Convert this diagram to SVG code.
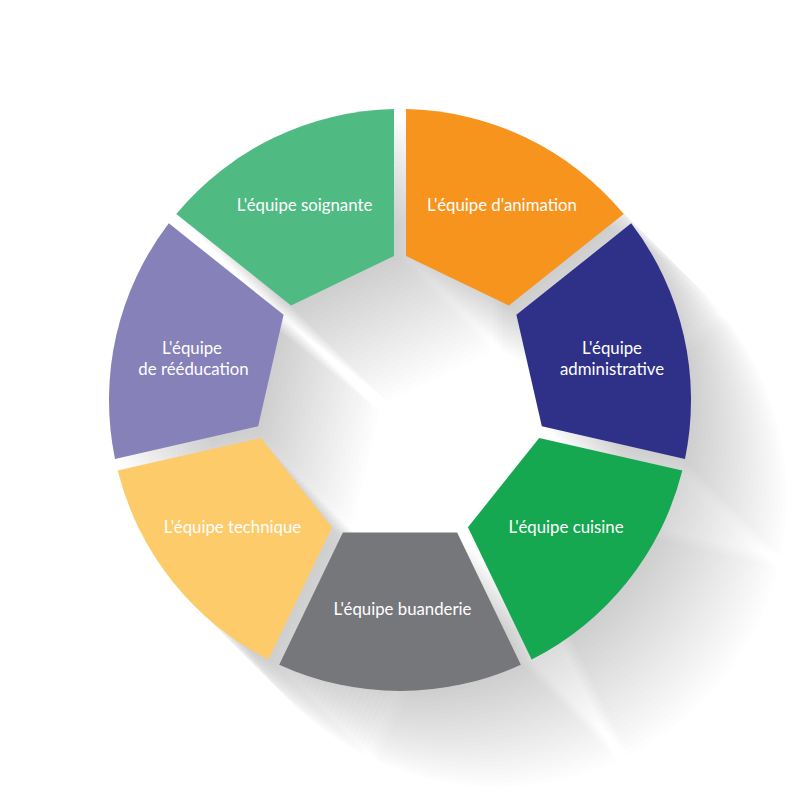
<svg xmlns="http://www.w3.org/2000/svg" xmlns:xlink="http://www.w3.org/1999/xlink" width="800" height="800" viewBox="0 0 800 800">
<style>
.lbl{font-family:Lato,"Open Sans","Liberation Sans",sans-serif;font-size:16.8px;fill:#ffffff;text-anchor:middle}
.sh{fill:#000;fill-opacity:0.006}
</style>
<defs>
<path id="ring" d="M406,255.89 L406,109.06 A291,291 0 0 1 623.73,213.91 L508.93,305.46 Z
M516.41,314.84 L631.21,223.29 A291,291 0 0 1 684.99,458.89 L541.84,426.22 Z
M539.17,437.92 L682.32,470.59 A291,291 0 0 1 531.64,659.53 L467.94,527.24 Z
M457.12,532.44 L520.82,664.73 A291,291 0 0 1 279.18,664.73 L342.88,532.44 Z
M332.06,527.24 L268.36,659.53 A291,291 0 0 1 117.68,470.59 L260.84,437.92 Z
M258.17,426.22 L115.01,458.89 A291,291 0 0 1 168.79,223.29 L283.59,314.84 Z
M291.07,305.46 L176.27,213.91 A291,291 0 0 1 394,109.06 L394,255.89 Z"/>
</defs>
<rect width="800" height="800" fill="#ffffff"/>
<g id="shadow">
<use xlink:href="#ring" class="sh" x="4" y="4"/>
<use xlink:href="#ring" class="sh" x="8" y="8"/>
<use xlink:href="#ring" class="sh" x="12" y="12"/>
<use xlink:href="#ring" class="sh" x="16" y="16"/>
<use xlink:href="#ring" class="sh" x="20" y="20"/>
<use xlink:href="#ring" class="sh" x="24" y="24"/>
<use xlink:href="#ring" class="sh" x="28" y="28"/>
<use xlink:href="#ring" class="sh" x="32" y="32"/>
<use xlink:href="#ring" class="sh" x="36" y="36"/>
<use xlink:href="#ring" class="sh" x="40" y="40"/>
<use xlink:href="#ring" class="sh" x="44" y="44"/>
<use xlink:href="#ring" class="sh" x="48" y="48"/>
<use xlink:href="#ring" class="sh" x="52" y="52"/>
<use xlink:href="#ring" class="sh" x="56" y="56"/>
<use xlink:href="#ring" class="sh" x="60" y="60"/>
<use xlink:href="#ring" class="sh" x="64" y="64"/>
<use xlink:href="#ring" class="sh" x="68" y="68"/>
<use xlink:href="#ring" class="sh" x="72" y="72"/>
<use xlink:href="#ring" class="sh" x="76" y="76"/>
<use xlink:href="#ring" class="sh" x="80" y="80"/>
<use xlink:href="#ring" class="sh" x="84" y="84"/>
<use xlink:href="#ring" class="sh" x="88" y="88"/>
<use xlink:href="#ring" class="sh" x="92" y="92"/>
<use xlink:href="#ring" class="sh" x="96" y="96"/>
</g>
<g id="connectors"></g>
<g id="animation">
<path d="M406,255.89 L406,109.06 A291,291 0 0 1 623.73,213.91 L508.93,305.46 Z" fill="#F7941D"/>
<text class="lbl" x="502" y="211">L'équipe d'animation</text>
</g>
<g id="administrative">
<path d="M516.41,314.84 L631.21,223.29 A291,291 0 0 1 684.99,458.89 L541.84,426.22 Z" fill="#2E3187"/>
<text class="lbl" x="612" y="354">L'équipe</text>
<text class="lbl" x="612" y="375">administrative</text>
</g>
<g id="cuisine">
<path d="M539.17,437.92 L682.32,470.59 A291,291 0 0 1 531.64,659.53 L467.94,527.24 Z" fill="#16A751"/>
<text class="lbl" x="566" y="533">L'équipe cuisine</text>
</g>
<g id="buanderie">
<path d="M457.12,532.44 L520.82,664.73 A291,291 0 0 1 279.18,664.73 L342.88,532.44 Z" fill="#76777B"/>
<text class="lbl" x="402.5" y="615">L'équipe buanderie</text>
</g>
<g id="technique">
<path d="M332.06,527.24 L268.36,659.53 A291,291 0 0 1 117.68,470.59 L260.84,437.92 Z" fill="#FDCB6A"/>
<text class="lbl" x="232.5" y="533">L'équipe technique</text>
</g>
<g id="reeducation">
<path d="M258.17,426.22 L115.01,458.89 A291,291 0 0 1 168.79,223.29 L283.59,314.84 Z" fill="#8781B9"/>
<text class="lbl" x="192" y="354">L'équipe</text>
<text class="lbl" x="193.5" y="375">de rééducation</text>
</g>
<g id="soignante">
<path d="M291.07,305.46 L176.27,213.91 A291,291 0 0 1 394,109.06 L394,255.89 Z" fill="#4FBB83"/>
<text class="lbl" x="304.5" y="211">L'équipe soignante</text>
</g>
</svg>
